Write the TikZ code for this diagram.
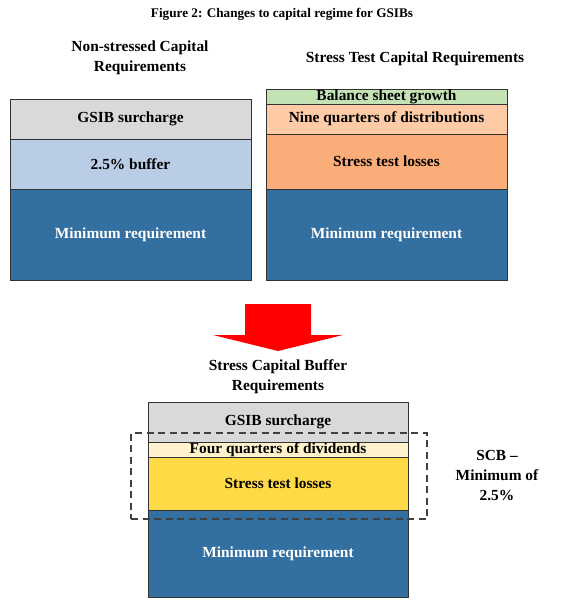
\documentclass[tikz,border=0pt]{standalone}
\usepackage{fontspec}
\setmainfont{Liberation Serif}
\usepackage{tikz}
\usetikzlibrary{positioning}
\definecolor{surgray}{HTML}{D9D9D9}
\definecolor{bufblue}{HTML}{B9CDE5}
\definecolor{minblue}{HTML}{336FA0}
\definecolor{growgreen}{HTML}{C4E3B4}
\definecolor{distpeach}{HTML}{FECBA6}
\definecolor{lossorange}{HTML}{FBAD79}
\definecolor{divcream}{HTML}{FFF2CC}
\definecolor{lossyellow}{HTML}{FFDA47}
\tikzset{layer/.style={draw=black!80, line width=0.9pt, rectangle, inner sep=0pt, outer sep=0pt, font=\bfseries\fontsize{15.4}{17}\selectfont},
	heading/.style={align=center, font=\bfseries\fontsize{15.4}{20}\selectfont}}

\begin{document}
\begin{tikzpicture}[x=1pt, y=-1pt]
	\useasboundingbox (0,0) rectangle (563,609);
	\node[font=\bfseries\fontsize{13.2}{15}\selectfont] (title) at (282,14) {Figure 2: Changes to capital regime for GSIBs};

	% non-stressed
	\node[heading] (lhead) at (140,58) {Non-stressed Capital\\Requirements};
	\node[layer, fill=surgray, minimum width=241pt, minimum height=40pt, anchor=north west] (lsur) at (10,99) {GSIB surcharge};
	\node[layer, fill=bufblue, minimum width=241pt, minimum height=50pt, below=0pt of lsur] (lbuf) {2.5\% buffer};
	\node[layer, fill=minblue, text=white, minimum width=241pt, minimum height=91pt, below=0pt of lbuf] (lmin) {Minimum requirement};

	% stress test
	\node[heading] (rhead) at (415,59) {Stress Test Capital Requirements};
	\node[layer, fill=growgreen, minimum width=241pt, minimum height=15pt, anchor=north west] (rgrow) at (266,89) {Balance sheet growth};
	\node[layer, fill=distpeach, minimum width=241pt, minimum height=30pt, below=0pt of rgrow] (rdist) {Nine quarters of distributions};
	\node[layer, fill=lossorange, minimum width=241pt, minimum height=55pt, below=0pt of rdist] (rloss) {Stress test losses};
	\node[layer, fill=minblue, text=white, minimum width=241pt, minimum height=91pt, below=0pt of rloss] (rmin) {Minimum requirement};

	\fill[red] (245,304)--(311,304)--(311,335)--(343,335)--(278,351)--(213,335)--(245,335)--cycle;

	% stress capital buffer
	\node[heading] (bhead) at (278,377) {Stress Capital Buffer\\Requirements};
	\node[layer, fill=surgray, minimum width=260pt, minimum height=40pt, anchor=north west] (bsur) at (148,402) {GSIB surcharge};
	\node[layer, fill=divcream, minimum width=260pt, minimum height=15pt, below=0pt of bsur] (bdiv) {Four quarters of dividends};
	\node[layer, fill=lossyellow, minimum width=260pt, minimum height=53pt, below=0pt of bdiv] (bloss) {Stress test losses};
	\node[layer, fill=minblue, text=white, minimum width=260pt, minimum height=87pt, below=0pt of bloss] (bmin) {Minimum requirement};

	\node[draw=black!75, line width=1.2pt, dash pattern=on 7pt off 4.5pt, minimum width=296pt, minimum height=86pt, inner sep=0pt] (scb) at (279,476) {};
	\node[heading] (scbtext) at (497,476) {SCB --\\Minimum of\\2.5\%};

\end{tikzpicture}
\end{document}
